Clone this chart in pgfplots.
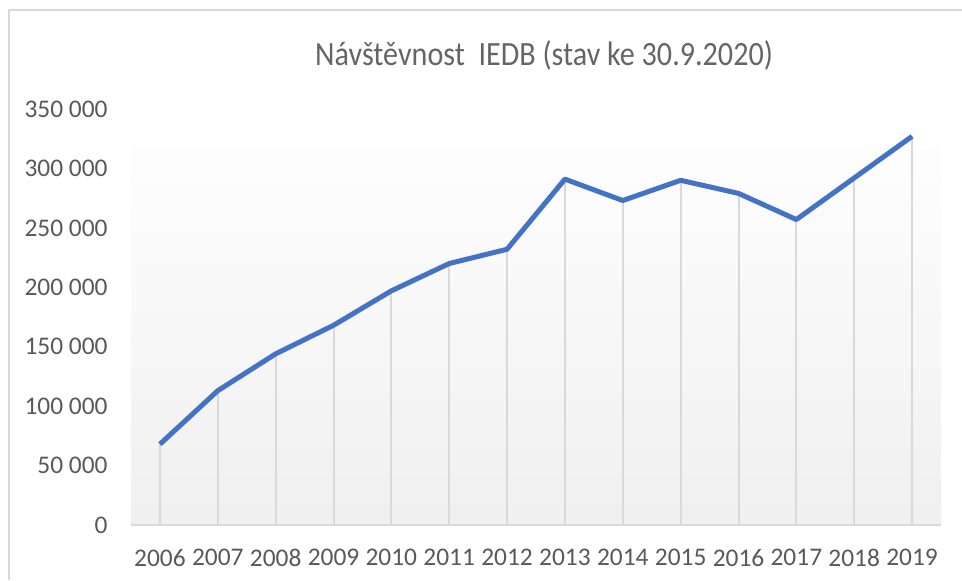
\documentclass[border=0pt]{standalone}
\usepackage{fontspec}
\setmainfont{Carlito}
\usepackage{graphicx}
\usepackage{pgfplots}
\pgfplotsset{compat=1.18}
\definecolor{lineblue}{HTML}{4472C4}
\definecolor{txtgray}{HTML}{595959}
\definecolor{titlegray}{HTML}{656565}
\definecolor{gridgray}{HTML}{D9D9D9}

\pgfplotstableread{
year visits
2006 68000
2007 113000
2008 144000
2009 168000
2010 197000
2011 220000
2012 232000
2013 291000
2014 273000
2015 290000
2016 279000
2017 257000
2018 292000
2019 327000
}\visits

\begin{document}
\begin{tikzpicture}[x=1pt,y=1pt]
\path[use as bounding box] (0,0) rectangle (481,290);
% chart frame (only left and top edges visible in the crop)
\draw[gridgray, line width=1pt] (4.5,0) -- (4.5,285) -- (481,285);
\node[titlegray, font=\fontsize{17}{20}\selectfont] at (272,262.5)
  {\scalebox{0.886}[1]{Návštěvnost\ \ IEDB (stav ke 30.9.2020)}};
\begin{axis}[
    at={(65.5pt,27.5pt)}, anchor=south west,
    scale only axis,
    width=405pt, height=208pt,
    xmin=2005.5, xmax=2019.5,
    ymin=0, ymax=350000,
    scaled y ticks=false,
    axis x line*=bottom,
    axis y line*=left,
    x axis line style={gridgray, line width=1pt, -},
    y axis line style={draw=none},
    major tick length=0pt,
    xtick={2006,2007,2008,2009,2010,2011,2012,2013,2014,2015,2016,2017,2018,2019},
    xticklabels={2006,2007,2008,2009,2010,2011,2012,2013,2014,2015,2016,2017,2018,2019},
    ytick={0,50000,100000,150000,200000,250000,300000,350000},
    yticklabels={0,50 000,100 000,150 000,200 000,250 000,300 000,350 000},
    ticklabel style={font=\fontsize{12.7}{15}\selectfont, text=txtgray, inner sep=0pt},
    yticklabel style={anchor=east},
    xticklabel style={anchor=north},
    yticklabel shift=11.5pt,
    xticklabel shift=12pt,
    axis background/.style={top color=white, bottom color=gray!12},
]
\addplot[ycomb, gridgray, line width=1pt, no marks] table[x=year, y=visits] {\visits};
\addplot[lineblue, line width=2.5pt, line join=round, no marks] table[x=year, y=visits] {\visits};
\end{axis}
\end{tikzpicture}
\end{document}
